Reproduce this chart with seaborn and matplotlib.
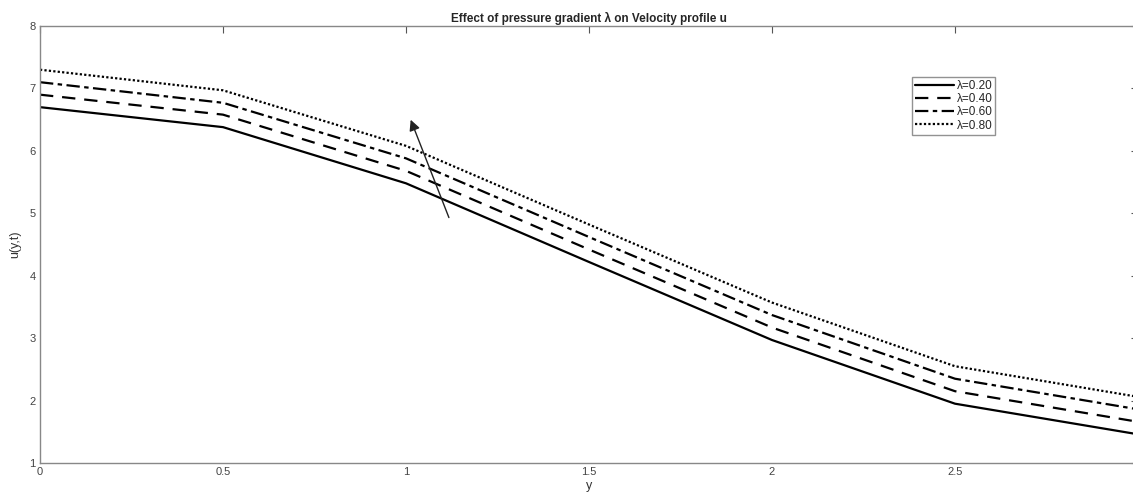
import numpy as np
import pandas as pd
import matplotlib.pyplot as plt
import seaborn as sns

# Dades llegides de la figura
y_vals = [0, 0.5, 1, 1.5, 2, 2.5, 3]
u_020 = [6.70, 6.38, 5.48, 4.22, 2.97, 1.95, 1.46]
u_040 = [6.90, 6.58, 5.68, 4.42, 3.17, 2.15, 1.66]
u_060 = [7.10, 6.77, 5.88, 4.62, 3.37, 2.35, 1.86]
u_080 = [7.30, 6.97, 6.08, 4.82, 3.57, 2.55, 2.06]
labels = ['λ=0.20', 'λ=0.40', 'λ=0.60', 'λ=0.80']

df = pd.DataFrame({'y': y_vals * 4,
                   'u': u_020 + u_040 + u_060 + u_080,
                   'lam': sum([[l] * len(y_vals) for l in labels], [])})

sns.set_style("white")
plt.rcParams['font.family'] = ['Liberation Sans', 'DejaVu Sans']

fig = plt.figure(figsize=(11.33, 4.92), dpi=100)
ax = fig.add_axes([40 / 1133, 1 - 463 / 492, 1098 / 1133, 437 / 492])

estils = ['-', (0, (6, 4)), (0, (6, 2, 2, 2)), (0, (1, 1))]
for lab, ls in zip(labels, estils):
    d = df[df['lam'] == lab]
    sns.lineplot(data=d, x='y', y='u', ax=ax, color='black', lw=1.6,
                 linestyle=ls, label=lab)

ax.set_xlim(0, 3)
ax.set_ylim(1, 8)
ax.set_xticks([0, 0.5, 1, 1.5, 2, 2.5])
ax.set_xticklabels(['0', '0.5', '1', '1.5', '2', '2.5'])
ax.set_yticks(range(1, 9))
ax.tick_params(direction='in', length=5, width=0.8, color='#555555',
               labelsize=8, labelcolor='#444444', top=True, right=True,
               pad=3)
for s in ax.spines.values():
    s.set_color('#888888')
    s.set_linewidth(1)

ax.set_xlabel('y', fontsize=9, color='#333333', labelpad=2)
ax.set_ylabel('u(y,t)', fontsize=9, color='#333333', labelpad=6)
ax.set_title('Effect of pressure gradient λ on Velocity profile u',
             fontsize=8.5, fontweight='bold', pad=3)

ax.annotate('', xy=(1.01, 6.54), xytext=(1.12, 4.89),
            arrowprops=dict(arrowstyle='-|>', color='#222222', lw=1,
                            mutation_scale=16))

leg = ax.legend(loc='upper left', bbox_to_anchor=(0.794, 0.883),
                fontsize=8.5, frameon=True, fancybox=False,
                handlelength=3.3, handletextpad=0.25, borderpad=0.25,
                labelspacing=0.1, borderaxespad=0)
leg.get_frame().set_edgecolor('#777777')
leg.get_frame().set_linewidth(1)

fig.savefig('out.png', dpi=100)
